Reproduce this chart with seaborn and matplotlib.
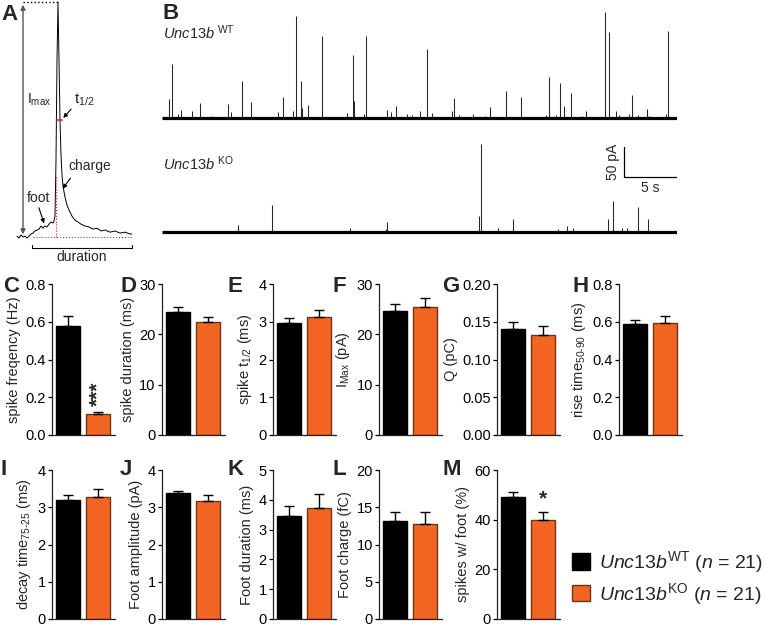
import matplotlib
matplotlib.use("Agg")
import matplotlib.pyplot as plt
from matplotlib.patches import Patch
import numpy as np
import pandas as pd
import seaborn as sns

# --------------------------------------------------------------------------- #
# Data
# --------------------------------------------------------------------------- #
GENOTYPES = ["WT", "KO"]
BAR_COLORS = ["#000000", "#F26522"]
EDGE_COLORS = ["#000000", "#6E3416"]

# schematic amperometric spike (panel A), time in ms, current in a.u.
spike_t = [0, 1, 2, 3, 4, 5, 6, 7, 8, 9, 10, 11, 12, 13, 14, 15, 16, 17, 18,
           18.5, 19, 19.5, 20, 20.5, 21, 21.5, 22, 22.5, 23, 24, 25, 26, 27.5,
           29, 30.5, 32, 34, 36, 38, 40, 42, 44, 46.5, 49, 51.5, 54, 56.5, 57.5]
spike_i = [0.4, -0.4, 0.9, 0, 0.4, -0.4, 0.4, 1.3, 1.7, 2.6, 3.0, 3.4, 4.7,
           3.8, 4.7, 4.3, 5.5, 6.4, 6.0, 6.8, 8.9, 32.8, 75.3, 100, 75.3, 49.8,
           34.9, 26.4, 21.7, 17.0, 13.6, 11.5, 8.9, 7.2, 6.4, 5.5, 4.7, 4.3,
           3.4, 3.8, 2.6, 3.0, 2.1, 2.6, 1.7, 2.1, 1.3, 1.3]

# recordings (panel B): spike times (s) and amplitudes (pA)
trace_t = [0, 48.6]
wt_t = [0.66, 0.92, 1.48, 1.79, 2.80, 3.58, 4.62, 6.25, 6.51, 7.52, 8.42,
        10.92, 11.42, 12.39, 12.61, 13.11, 13.24, 13.75, 15.12, 17.42, 18.05,
        18.11, 19.08, 19.25, 21.2, 21.58, 22.08, 23.14, 23.56, 24.34, 24.97,
        25.44, 27.36, 27.52, 28.05, 29.31, 30.47, 30.92, 32.45, 33.9, 36.2,
        36.51, 37.17, 37.52, 37.58, 37.9, 38.61, 39.6, 39.97, 41.85, 42.14,
        42.86, 43.11, 44.09, 44.31, 44.9, 45.74, 45.94, 47.54, 47.76]
wt_amp = [32, 90, 7, 13, 12, 25, 3, 23, 10, 62, 27, 10, 35, 12, 170, 62, 17,
          22, 137, 8, 105, 28, 7, 137, 13, 10, 20, 7, 5, 12, 115, 8, 12, 33,
          5, 7, 3, 18, 45, 35, 5, 68, 5, 58, 38, 20, 42, 3, 12, 177, 143, 12,
          5, 7, 38, 5, 15, 3, 7, 145]
ko_t = [7.14, 10.35, 17.76, 21.13, 21.25, 29.93, 30.09, 31.73, 33.08, 37.39,
        38.24, 38.77, 42.1, 42.55, 43.4, 43.9, 44.88, 45.85]
ko_amp = [13, 45, 7, 5, 17, 27, 148, 8, 23, 5, 10, 8, 22, 53, 7, 8, 43, 23]
WT_OFFSET = 190  # vertical offset of the WT trace (pA)

# summary bars: mean and SEM for WT, KO
freq_mean, freq_sem = [0.58, 0.11], [0.05, 0.012]
dur_mean, dur_sem = [24.4, 22.4], [1.0, 1.1]
thalf_mean, thalf_sem = [2.98, 3.13], [0.12, 0.19]
imax_mean, imax_sem = [24.7, 25.4], [1.3, 1.8]
q_mean, q_sem = [0.140, 0.132], [0.010, 0.012]
rise_mean, rise_sem = [0.588, 0.592], [0.022, 0.040]
decay_mean, decay_sem = [3.20, 3.27], [0.14, 0.22]
famp_mean, famp_sem = [3.38, 3.18], [0.05, 0.14]
fdur_mean, fdur_sem = [3.47, 3.71], [0.31, 0.47]
fq_mean, fq_sem = [13.1, 12.7], [1.2, 1.6]
foot_mean, foot_sem = [49.1, 40.0], [2.2, 2.9]

# --------------------------------------------------------------------------- #
# Style
# --------------------------------------------------------------------------- #
sns.set_theme(style="ticks")
plt.rcParams.update({
    "font.family": ["Liberation Sans", "DejaVu Sans"],
    "mathtext.fontset": "custom",
    "mathtext.rm": "Liberation Sans",
    "mathtext.it": "Liberation Sans:italic",
    "mathtext.bf": "Liberation Sans:bold",
    "axes.linewidth": 0.9,
    "xtick.major.width": 0.9,
    "ytick.major.width": 0.9,
    "ytick.major.size": 3,
    "font.size": 10,
})

W, H = 767, 627
fig = plt.figure(figsize=(W / 100, H / 100), dpi=100)


def px_axes(left, top, right, bottom):
    return fig.add_axes([left / W, 1 - bottom / H, (right - left) / W, (bottom - top) / H])


def px_text(x, y, s, **kw):
    fig.text(x / W, 1 - y / H, s, **kw)


# --------------------------------------------------------------------------- #
# A: spike schematic
# --------------------------------------------------------------------------- #
axA = px_axes(0, 0, 150, 262)
axA.set_xlim(-8.5, 66.5)
axA.set_ylim(-10.6, 100.85)
axA.axis("off")
axA.plot(spike_t, spike_i, color="black", lw=0.7)
axA.annotate("", xy=(3, 100), xytext=(3, 0),
             arrowprops=dict(arrowstyle="<|-|>", color="#555555", lw=1, mutation_scale=7))
axA.plot([3, 20.5], [100, 100], color="black", lw=1, ls=":")
axA.plot([20, 22.5], [49.8, 49.8], color="#D62030", lw=1.2)
axA.plot([19.5, 19.5], [0, 25.5], color="#D62030", lw=0.8, ls=":")
axA.plot([8, 57.5], [0, 0], color="#D62030", lw=0.8, ls=":")
axA.plot([7.5, 7.5, 57.5, 57.5], [-3.4, -4.7, -4.7, -3.4], color="black", lw=0.8)
axA.text(5, 58.3, r"I$_{\rm max}$", fontsize=10, va="center", ha="left")
axA.text(28.5, 58.3, r"t$_{1/2}$", fontsize=11, va="center", ha="left")
axA.text(25.5, 30.2, "charge", fontsize=10, va="center", ha="left")
axA.text(5, 16.6, "foot", fontsize=10, va="center", ha="left")
axA.text(32.5, -8.3, "duration", fontsize=10, va="center", ha="center")
arrow_kw = dict(arrowstyle="-|>", color="black", lw=0.8, mutation_scale=6)
axA.annotate("", xy=(22.2, 49.8), xytext=(28, 55.3), arrowprops=arrow_kw)
axA.annotate("", xy=(22, 19.6), xytext=(27.5, 26), arrowprops=arrow_kw)
axA.annotate("", xy=(14, 4.7), xytext=(10.5, 13.6), arrowprops=arrow_kw)

# --------------------------------------------------------------------------- #
# B: example recordings
# --------------------------------------------------------------------------- #
axB = px_axes(162, 5, 677, 240)
axB.set_xlim(0, 48.6)
axB.set_ylim(-12.8, 378.8)
axB.axis("off")
wt_base = [WT_OFFSET] * len(wt_t)
axB.vlines(wt_t, wt_base, np.add(wt_amp, WT_OFFSET), color="#262626", lw=0.75)
axB.vlines(ko_t, [0] * len(ko_t), ko_amp, color="#262626", lw=0.75)
axB.plot(trace_t, [WT_OFFSET] * 2, color="black", lw=2.3, solid_capstyle="butt")
axB.plot(trace_t, [0, 0], color="black", lw=2.3, solid_capstyle="butt")
# scale bar 50 pA / 5 s
axB.plot([43.6, 43.6, 48.6], [142.7, 92.7, 92.7], color="black", lw=0.9)
axB.text(42.6, 117.7, "50 pA", rotation=90, ha="center", va="center", fontsize=10)
axB.text(46.1, 86, "5 s", ha="center", va="top", fontsize=10)
px_text(163, 39, r"$\mathit{Unc13b}^{\ \mathrm{WT}}$", fontsize=10.5, va="baseline")
px_text(163, 170, r"$\mathit{Unc13b}^{\ \mathrm{KO}}$", fontsize=10.5, va="baseline")

# --------------------------------------------------------------------------- #
# C-M: summary bars
# --------------------------------------------------------------------------- #


def bar_panel(spine_x, top, bottom, mean, sem, ymax, step, fmt, ylabel):
    ax = px_axes(spine_x, top, spine_x + 63, bottom)
    df = pd.DataFrame({"genotype": GENOTYPES, "value": mean})
    sns.barplot(data=df, x="genotype", y="value", hue="genotype",
                palette=BAR_COLORS, saturation=1, width=0.8, errorbar=None,
                legend=False, linewidth=1, ax=ax)
    for patch, ec in zip(ax.patches, EDGE_COLORS):
        patch.set_edgecolor(ec)
    ax.errorbar([0, 1], mean, yerr=[[0, 0], sem], fmt="none", ecolor="black",
                elinewidth=1, capsize=3.5, capthick=1, zorder=3)
    ax.set_xlim(-0.53, 1.57)
    ax.set_ylim(0, ymax)
    ticks = np.arange(0, ymax + step / 2, step)
    ax.set_yticks(ticks)
    ax.set_yticklabels([fmt.format(t) for t in ticks], fontsize=10.5)
    ax.set_xticks([])
    ax.set_xlabel("")
    ax.set_ylabel(ylabel, fontsize=10.5, labelpad=3)
    ax.tick_params(axis="y", direction="out", length=3, pad=1.5, colors="black")
    sns.despine(ax=ax)
    for s in ("left", "bottom"):
        ax.spines[s].set_color("#222222")
    return ax


R1 = (284, 435)
R2 = (470, 619)
axC = bar_panel(52, *R1, freq_mean, freq_sem, 0.8, 0.2, "{:.1f}", "spike freqency (Hz)")
bar_panel(162, *R1, dur_mean, dur_sem, 30, 10, "{:.0f}", "spike duration (ms)")
bar_panel(273, *R1, thalf_mean, thalf_sem, 4, 1, "{:.0f}", r"spike t$_{1/2}$ (ms)")
bar_panel(379, *R1, imax_mean, imax_sem, 30, 10, "{:.0f}", r"I$_{\rm Max}$ (pA)")
bar_panel(497, *R1, q_mean, q_sem, 0.20, 0.05, "{:.2f}", "Q (pC)")
bar_panel(619, *R1, rise_mean, rise_sem, 0.8, 0.2, "{:.1f}", r"rise time$_{50\text{-}90}$ (ms)")
bar_panel(52, *R2, decay_mean, decay_sem, 4, 1, "{:.0f}", r"decay time$_{75\text{-}25}$ (ms)")
bar_panel(162, *R2, famp_mean, famp_sem, 4, 1, "{:.0f}", "Foot amplitude (pA)")
bar_panel(273, *R2, fdur_mean, fdur_sem, 5, 1, "{:.0f}", "Foot duration (ms)")
bar_panel(379, *R2, fq_mean, fq_sem, 20, 5, "{:.0f}", "Foot charge (fC)")
axM = bar_panel(497, *R2, foot_mean, foot_sem, 60, 20, "{:.0f}", "spikes w/ foot (%)")

axC.text(1, freq_mean[1] + freq_sem[1] + 0.03, "***", rotation=90, ha="center",
         va="bottom", fontsize=15, fontweight="bold")
axM.text(1, foot_mean[1] + foot_sem[1] + 1.5, "*", ha="center", va="bottom",
         fontsize=15, fontweight="bold")

# legend
handles = [Patch(facecolor=c, edgecolor=e, lw=1) for c, e in zip(BAR_COLORS, EDGE_COLORS)]
labels = [r"$\mathit{Unc13b}^{\mathrm{WT}}$ ($\mathit{n}$ = 21)",
          r"$\mathit{Unc13b}^{\mathrm{KO}}$ ($\mathit{n}$ = 21)"]
fig.legend(handles, labels, loc="upper left", bbox_to_anchor=(572 / W, 1 - 549 / H),
           frameon=False, fontsize=14, handlelength=0.95, handleheight=0.95,
           handletextpad=0.45, borderpad=0, borderaxespad=0, labelspacing=0.3)

# panel letters
for letter, x, y in [("A", 1, 20), ("B", 163, 19), ("C", 3, 292), ("D", 120, 292),
                     ("E", 228, 292), ("F", 333, 292), ("G", 442, 292), ("H", 573, 292),
                     ("I", 0, 475), ("J", 120, 475), ("K", 228, 475), ("L", 333, 475),
                     ("M", 442, 475)]:
    px_text(x, y, letter, fontsize=16, fontweight="bold", va="baseline")

fig.savefig("out.png", dpi=100)
